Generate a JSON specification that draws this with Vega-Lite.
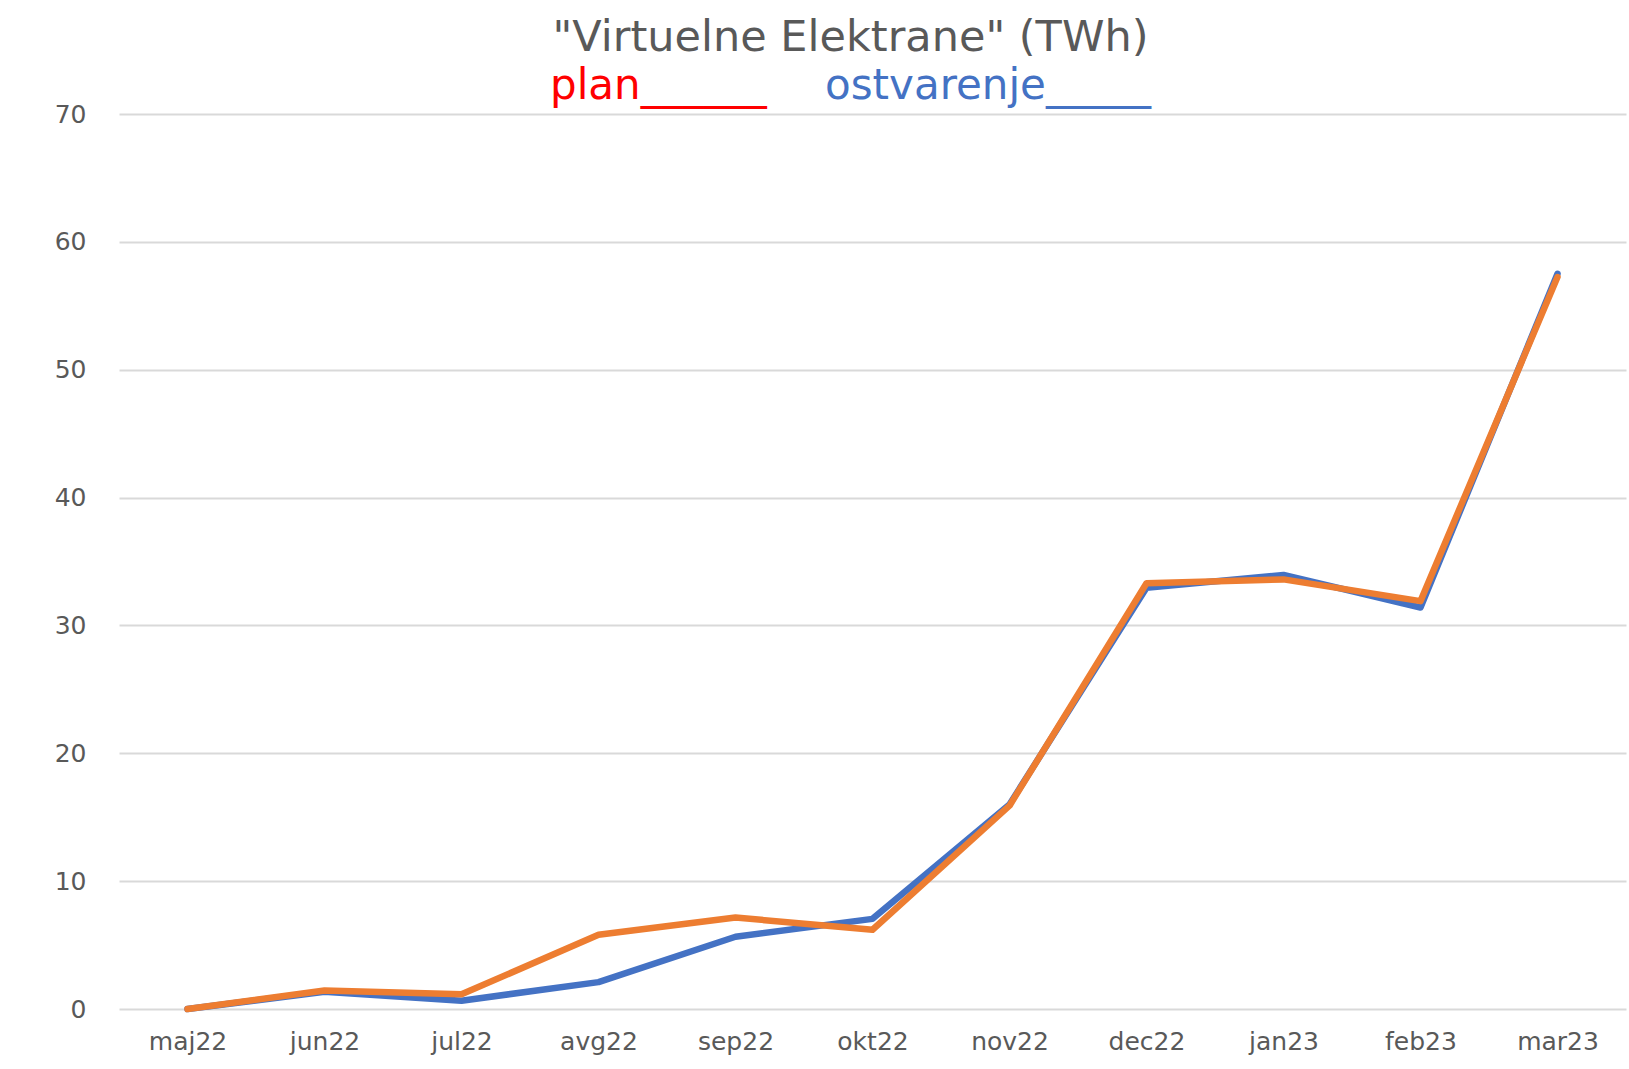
{
  "$schema": "https://vega.github.io/schema/vega-lite/v6.json",
  "autosize": {"type": "none"},
  "padding": {"left": 119, "top": 114, "right": 3, "bottom": 60},
  "width": 1507,
  "height": 895,
  "background": "white",
  "config": {"view": {"stroke": null}},
  "title": {
    "text": "\"Virtuelne Elektrane\" (TWh)",
    "anchor": "middle",
    "font": "DejaVu Sans",
    "fontSize": 43,
    "fontWeight": "normal",
    "color": "#595959",
    "offset": 5,
    "dx": -22
  },
  "data": {
    "values": [
      {"month": "maj22", "series": "ostvarenje", "value": 0},
      {"month": "jun22", "series": "ostvarenje", "value": 1.35},
      {"month": "jul22", "series": "ostvarenje", "value": 0.65},
      {"month": "avg22", "series": "ostvarenje", "value": 2.1},
      {"month": "sep22", "series": "ostvarenje", "value": 5.65},
      {"month": "okt22", "series": "ostvarenje", "value": 7.05},
      {"month": "nov22", "series": "ostvarenje", "value": 16.0},
      {"month": "dec22", "series": "ostvarenje", "value": 32.95},
      {"month": "jan23", "series": "ostvarenje", "value": 33.95},
      {"month": "feb23", "series": "ostvarenje", "value": 31.4},
      {"month": "mar23", "series": "ostvarenje", "value": 57.5},
      {"month": "maj22", "series": "plan", "value": 0},
      {"month": "jun22", "series": "plan", "value": 1.45},
      {"month": "jul22", "series": "plan", "value": 1.15},
      {"month": "avg22", "series": "plan", "value": 5.8},
      {"month": "sep22", "series": "plan", "value": 7.15},
      {"month": "okt22", "series": "plan", "value": 6.2},
      {"month": "nov22", "series": "plan", "value": 15.9},
      {"month": "dec22", "series": "plan", "value": 33.3},
      {"month": "jan23", "series": "plan", "value": 33.6},
      {"month": "feb23", "series": "plan", "value": 31.9},
      {"month": "mar23", "series": "plan", "value": 57.25}
    ]
  },
  "encoding": {
    "x": {
      "field": "month",
      "type": "ordinal",
      "sort": ["maj22","jun22","jul22","avg22","sep22","okt22","nov22","dec22","jan23","feb23","mar23"],
      "scale": {"type": "point", "padding": 0.5},
      "axis": {
        "title": null,
        "labelAngle": 0,
        "labelFont": "DejaVu Sans",
        "labelFontSize": 25,
        "labelColor": "#595959",
        "labelPadding": 20,
        "ticks": false,
        "domain": false,
        "grid": false
      }
    },
    "y": {
      "field": "value",
      "type": "quantitative",
      "scale": {"domain": [0, 70], "nice": false},
      "axis": {
        "title": null,
        "values": [0,10,20,30,40,50,60,70],
        "labelFont": "DejaVu Sans",
        "labelFontSize": 25,
        "labelColor": "#595959",
        "labelPadding": 33,
        "ticks": false,
        "domain": false,
        "grid": true,
        "gridColor": "#D9D9D9",
        "gridWidth": 2
      }
    },
    "color": {
      "field": "series",
      "type": "nominal",
      "scale": {"domain": ["plan", "ostvarenje"], "range": ["#ED7D31", "#4472C4"]},
      "legend": {
        "orient": "none",
        "direction": "horizontal",
        "legendX": 389,
        "legendY": -49,
        "title": null,
        "symbolSize": 0,
        "symbolStrokeWidth": 0,
        "symbolOpacity": 0,
        "labelOffset": 0,
        "columnPadding": 16,
        "labelLimit": 0,
        "labelFont": "DejaVu Sans",
        "labelFontSize": 42,
        "labelExpr": "datum.label == 'plan' ? 'plan______' : 'ostvarenje_____'",
        "encode": {
          "labels": {
            "update": {
              "fill": {"signal": "datum.value == 'plan' ? '#FF0000' : '#4472C4'"}
            }
          }
        }
      }
    }
  },
  "layer": [
    {
      "transform": [{"filter": "datum.series == 'ostvarenje'"}],
      "mark": {"type": "line", "strokeWidth": 6.5, "strokeCap": "round", "strokeJoin": "round"}
    },
    {
      "transform": [{"filter": "datum.series == 'plan'"}],
      "mark": {"type": "line", "strokeWidth": 6.5, "strokeCap": "round", "strokeJoin": "round"}
    }
  ]
}
